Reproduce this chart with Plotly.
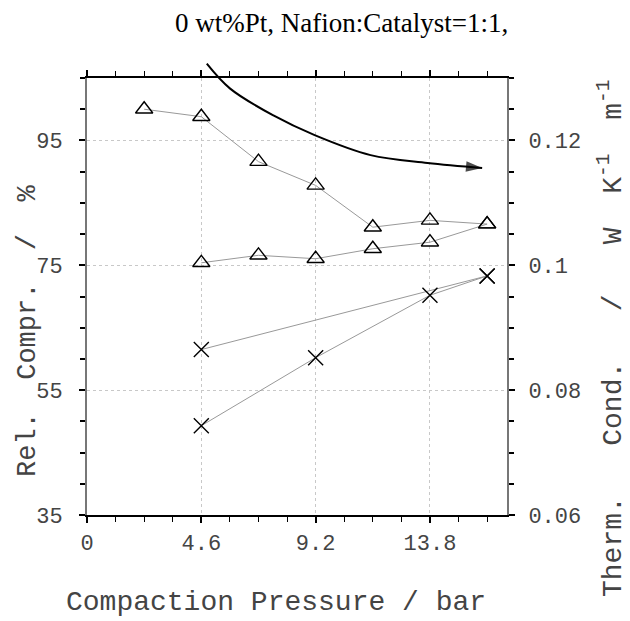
import plotly.graph_objects as go

# compaction pressure (bar) and relative compression (%)
tri_up_x = [2.3, 4.6, 6.9, 9.2, 11.5, 13.8, 16.1]
tri_up_y = [100.0, 98.8, 91.6, 87.8, 81.1, 82.2, 81.6]
tri_lo_x = [4.6, 6.9, 9.2, 11.5, 13.8, 16.1]
tri_lo_y = [75.4, 76.6, 76.05, 77.65, 78.7, 81.6]

cross_a_x = [4.6, 16.1]
cross_a_y = [61.5, 73.3]
cross_b_x = [4.6, 9.2, 13.8, 16.1]
cross_b_y = [49.3, 60.2, 70.2, 73.3]

# guide arrow
arrow_x = [4.82, 5.76, 7.5, 9.16, 11.41, 13.7, 15.9]
arrow_y = [107.3, 103.3, 99.0, 95.85, 92.65, 91.4, 90.6]

x_ticks = [0, 4.6, 9.2, 13.8]
x_text = ["0", "4.6", "9.2", "13.8"]
y_ticks = [35, 55, 75, 95]
y2_ticks = [0.06, 0.08, 0.1, 0.12]
y2_text = ["0.06", "0.08", "0.1", "0.12"]

x_range = [0, 16.9]
y_range = [35, 105]
y2_range = [0.06, 0.13]

MONO = "Liberation Mono"
TXT = "#444444"
SP2 = "\u00a0\u00a0"
SP3 = "\u00a0\u00a0\u00a0"
top_dom = 0.92
# the page body adds an 8px offset, margins compensate for it
OFF = 8

fig = go.Figure()

def series(x, y, sym, size):
    return go.Scatter(x=x, y=y, mode="lines+markers",
                      line=dict(color="#999999", width=1),
                      marker=dict(symbol=sym, size=size, color="black",
                                  line=dict(color="black", width=1.4)),
                      showlegend=False, cliponaxis=False)

fig.add_trace(series(tri_up_x, tri_up_y, "triangle-up-open", 15))
fig.add_trace(series(tri_lo_x, tri_lo_y, "triangle-up-open", 15))
fig.add_trace(series(cross_a_x, cross_a_y, "x-thin-open", 15))
fig.add_trace(series(cross_b_x, cross_b_y, "x-thin-open", 15))

# arrow lives on its own taller (invisible) axes so it can poke above the frame
head = [0] * (len(arrow_x) - 1) + [17]
fig.add_trace(go.Scatter(x=arrow_x, y=arrow_y, xaxis="x3", yaxis="y4",
                         mode="lines+markers", line=dict(color="black", width=2, shape="spline"),
                         marker=dict(symbol="arrow", angleref="previous", size=head,
                                     color="black", line=dict(width=0)),
                         showlegend=False))
# dummy trace for the right axis
fig.add_trace(go.Scatter(x=[None], y=[None], yaxis="y2", showlegend=False))

fig.update_layout(
    width=630, height=621,
    margin=dict(l=87 - OFF, r=123 + OFF, t=40 - OFF, b=106 + OFF),
    paper_bgcolor="white", plot_bgcolor="rgba(0,0,0,0)",
    font=dict(family=MONO, size=22, color=TXT),
    xaxis=dict(range=x_range, tickvals=x_ticks, ticktext=x_text,
               ticks="outside", ticklen=6, tickwidth=1.5, tickcolor="black",
               minor=dict(dtick=1.15, tick0=0, ticks="outside", ticklen=5,
                          tickcolor="black", tickwidth=1),
               showgrid=True, gridcolor="#c8c8c8", griddash="dot", gridwidth=1,
               showline=True, linecolor="black", linewidth=1.5, mirror="ticks",
               zeroline=False, anchor="y", ticklabelstandoff=1, automargin=False),
    xaxis2=dict(range=x_range, tickvals=x_ticks, overlaying="x", ticks="inside", ticklen=6,
                tickwidth=1.5, tickcolor="black", mirror="ticks", showticklabels=False,
                showgrid=False, showline=False, zeroline=False, anchor="y", automargin=False),
    yaxis=dict(range=y_range, domain=[0, top_dom], tickvals=y_ticks,
               ticks="outside", ticklen=6, tickwidth=1.5, tickcolor="black",
               minor=dict(dtick=5, tick0=35, ticks="outside", ticklen=5, tickcolor="black"),
               showgrid=True, gridcolor="#c8c8c8", griddash="dot", gridwidth=1,
               showline=True, linecolor="#777777", linewidth=2, zeroline=False,
               ticklabelstandoff=12, automargin=False),
    yaxis2=dict(range=y2_range, overlaying="y", side="right", tickvals=y2_ticks, ticktext=y2_text,
                ticks="outside", ticklen=6, tickwidth=1.5, tickcolor="black",
                minor=dict(dtick=0.005, tick0=0.06, ticks="outside", ticklen=5, tickcolor="black"),
                showgrid=False, showline=True, linecolor="#777777", linewidth=2,
                zeroline=False, ticklabelstandoff=9, automargin=False),
    yaxis3=dict(range=y_range, overlaying="y", tickvals=y_ticks, ticks="inside", ticklen=6,
                tickwidth=1.5, tickcolor="black", mirror="ticks", showticklabels=False,
                showgrid=False, showline=False, zeroline=False, automargin=False),
    xaxis3=dict(range=x_range, domain=[0, 1], anchor="y4", visible=False),
    yaxis4=dict(range=[y_range[0], y_range[0] + (y_range[1] - y_range[0]) / top_dom],
                domain=[0, 1], anchor="x3", visible=False),
)

def label(text, sx, sy, size, angle=0, family=MONO, color=TXT):
    # sx, sy: wanted screen position of the text centre
    fig.add_annotation(text=text, xref="paper", yref="paper",
                       x=(sx - 87) / 420, y=(515 - sy) / 475,
                       xanchor="center", yanchor="middle", textangle=angle,
                       showarrow=False, font=dict(family=family, size=size, color=color))

label("0 wt%Pt, Nafion:Catalyst=1:1,", 341, 23, 27, family="Liberation Serif", color="black")
label("Compaction Pressure / bar", 276, 602, 28)
label(SP2.join(["Rel.", "Compr.", "/", "%"]), 28, 331, 27, angle=-90)
therm = SP3.join(["Therm.", "Cond.", "/", "W"]) + SP2 + "K<sup>-1</sup>" + SP2 + "m<sup>-1</sup>"
label(therm, 611, 338, 28, angle=-90)

fig.write_html("out.html")
